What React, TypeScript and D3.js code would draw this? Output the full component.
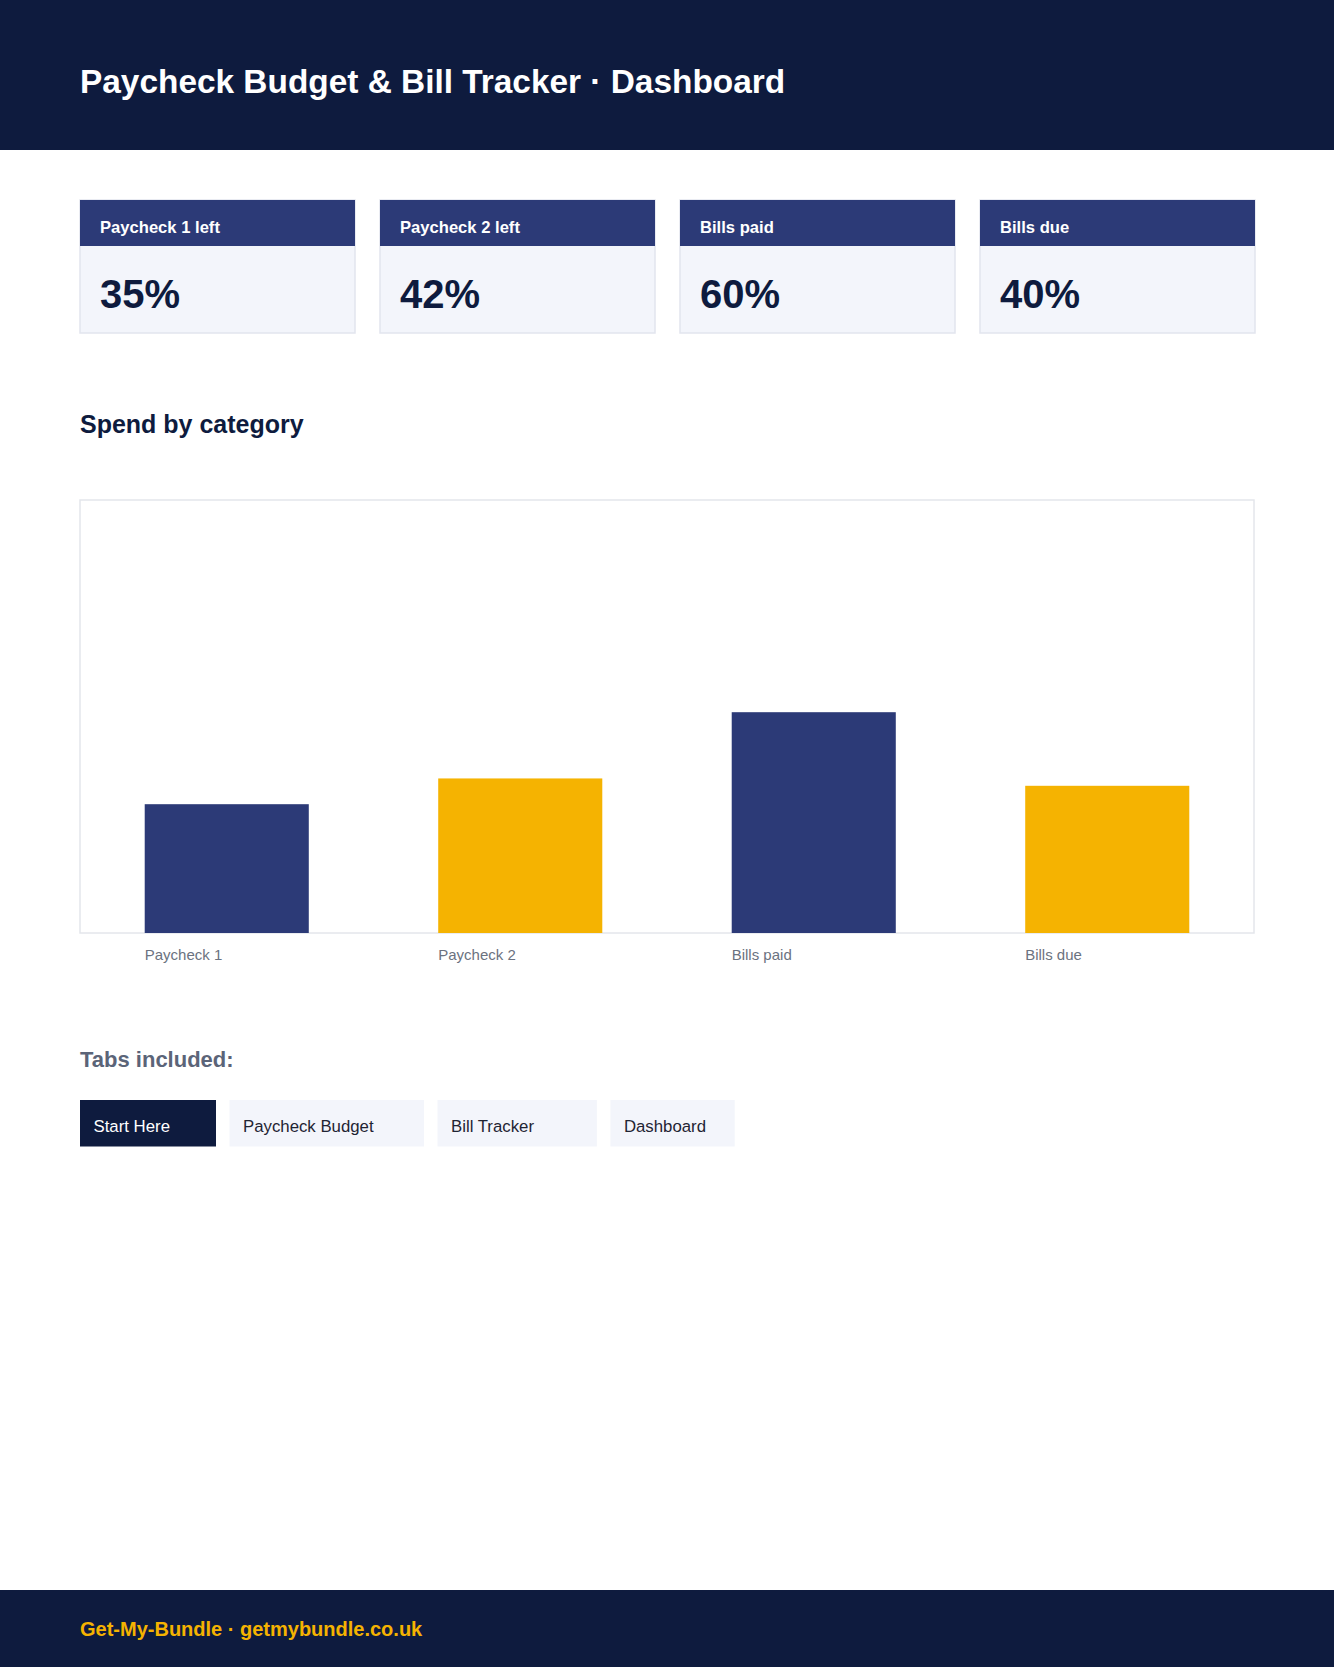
import * as d3 from 'd3';

const PAGE_W = 1334;
const PAGE_H = 1667;

const pageTitle = 'Paycheck Budget & Bill Tracker · Dashboard';
const chartTitle = 'Spend by category';
const tabsTitle = 'Tabs included:';
const footerText = 'Get-My-Bundle · getmybundle.co.uk';

const kpiLabels = ['Paycheck 1 left', 'Paycheck 2 left', 'Bills paid', 'Bills due'];
const kpiValues = [35, 42, 60, 40];

const barCategories = ['Paycheck 1', 'Paycheck 2', 'Bills paid', 'Bills due'];
const barValues = [35, 42, 60, 40];

const tabNames = ['Start Here', 'Paycheck Budget', 'Bill Tracker', 'Dashboard'];

const NAVY = '#0e1b3e';
const INDIGO = '#2c3a77';
const GOLD = '#f5b301';
const FONT = '"Liberation Sans", Arial, Helvetica, sans-serif';

export default function App() {
  const left = 80;
  const right = PAGE_W - 80;

  // kpi cards
  const cardX = d3.scaleBand<string>()
    .domain(kpiLabels)
    .range([left, left + 1175])
    .paddingInner(25 / 300)
    .paddingOuter(0);
  const cardTop = 200;
  const bandH = 46;
  const cardBottom = 333;

  // bar chart
  const box = { top: 500, bottom: 933 };
  const x = d3.scaleBand<string>()
    .domain(barCategories)
    .range([left, right])
    .paddingInner(0.441)
    .paddingOuter(0.2205);
  const y = d3.scaleLinear().domain([0, 100]).range([box.bottom, 565]);

  // tabs: width follows label length
  const tabW = (s: string) => s.length * 11.7 + 19;
  const tabGap = 13.5;
  const tabX: number[] = [];
  tabNames.reduce((acc, s) => {
    tabX.push(acc);
    return acc + tabW(s) + tabGap;
  }, left);

  return (
    <svg
      width={PAGE_W}
      height={PAGE_H}
      viewBox={`0 0 ${PAGE_W} ${PAGE_H}`}
      style={{ position: 'absolute', top: 0, left: 0, display: 'block', background: '#fff' }}
      fontFamily={FONT}
    >
      {/* header */}
      <rect x={0} y={0} width={PAGE_W} height={150} fill={NAVY} />
      <text x={left} y={93} fill="#fff" fontSize={33.4} fontWeight={700}>{pageTitle}</text>

      {/* kpi cards */}
      {kpiLabels.map((label, i) => {
        const cx = cardX(label)!;
        const w = cardX.bandwidth();
        return (
          <g key={label}>
            <rect x={cx} y={cardTop} width={w} height={cardBottom - cardTop} fill="#f3f5fb" stroke="#e2e5ee" strokeWidth={1.5} />
            <rect x={cx} y={cardTop} width={w} height={bandH} fill={INDIGO} />
            <text x={cx + 20} y={233} fill="#fff" fontSize={16.6} fontWeight={700}>{label}</text>
            <text x={cx + 20} y={308} fill={NAVY} fontSize={40} fontWeight={700}>{`${kpiValues[i]}%`}</text>
          </g>
        );
      })}

      {/* chart */}
      <text x={left} y={433} fill={NAVY} fontSize={25} fontWeight={700}>{chartTitle}</text>
      <rect x={left} y={box.top} width={right - left} height={box.bottom - box.top} fill="#fff" stroke="#e4e6eb" strokeWidth={1.5} />
      {barCategories.map((c, i) => (
        <g key={c}>
          <rect
            x={x(c)!}
            y={y(barValues[i])}
            width={x.bandwidth()}
            height={y(0) - y(barValues[i])}
            fill={i % 2 === 0 ? INDIGO : GOLD}
          />
          <text x={x(c)!} y={960} fill="#6b7280" fontSize={15}>{c}</text>
        </g>
      ))}

      {/* tabs */}
      <text x={left} y={1067} fill="#5b6478" fontSize={22} fontWeight={700}>{tabsTitle}</text>
      {tabNames.map((t, i) => (
        <g key={t}>
          <rect x={tabX[i]} y={1100} width={tabW(t)} height={46.5} fill={i === 0 ? NAVY : '#f3f5fb'} />
          <text x={tabX[i] + 13.5} y={1131.5} fill={i === 0 ? '#fff' : '#1f2433'} fontSize={16.8}>{t}</text>
        </g>
      ))}

      {/* footer */}
      <rect x={0} y={1590} width={PAGE_W} height={PAGE_H - 1590} fill={NAVY} />
      <text x={left} y={1636} fill={GOLD} fontSize={20} fontWeight={700}>{footerText}</text>
    </svg>
  );
}
